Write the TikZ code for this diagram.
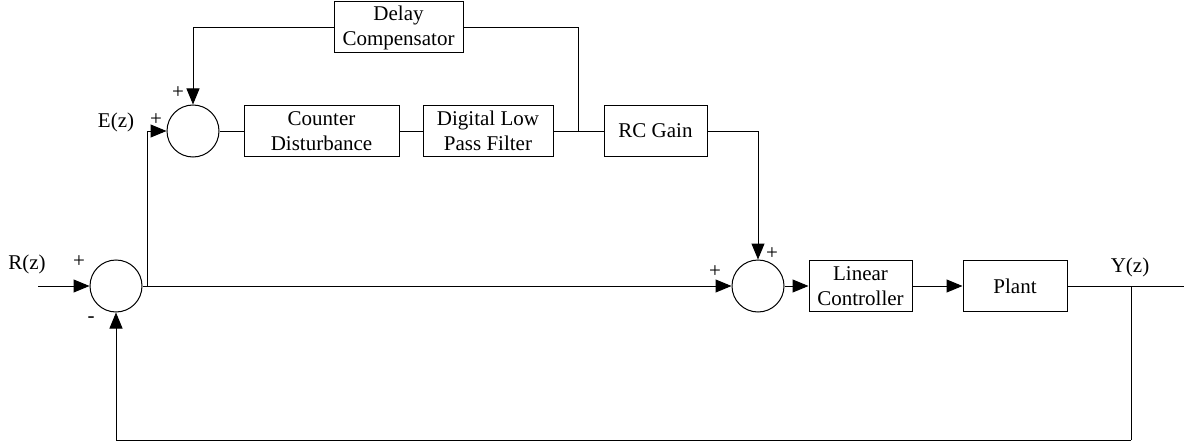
\documentclass[tikz,border=0pt]{standalone}
\usepackage{fontspec}
\setmainfont{Liberation Serif}
\usetikzlibrary{arrows.meta}
\begin{document}
\begin{tikzpicture}[x=1pt,y=-1pt,
  font=\fontsize{21}{25}\selectfont,
  blk/.style={draw, line width=1pt, inner sep=0pt, align=center, minimum height=51pt},
  sumc/.style={draw, circle, line width=1pt, minimum size=52pt, inner sep=0pt},
  wire/.style={line width=1pt},
  arr/.style={wire, -{Triangle[length=16pt,width=13pt]}},
  lbl/.style={inner sep=0pt}]
\useasboundingbox (0,0) rectangle (1184,444);
% summing junctions
\node[sumc] (c0) at (116,286) {};
\node[sumc] (c1) at (193,131) {};
\node[sumc] (c2) at (758,286) {};
% blocks
\node[blk, minimum width=129pt] (dc) at (398.5,27.5) {Delay\\Compensator};
\node[blk, minimum width=155pt] (cd) at (321.5,131) {Counter\\Disturbance};
\node[blk, minimum width=130pt] (lp) at (488,131) {Digital Low\\Pass Filter};
\node[blk, minimum width=103pt] (rc) at (655.5,131) {RC Gain};
\node[blk, minimum width=103pt] (lc) at (860.5,286) {Linear\\Controller};
\node[blk, minimum width=104pt] (pl) at (1015,286) {Plant};
% coordinates
\coordinate (in) at (38,286);
\coordinate (out) at (1184,286);
\coordinate (j1) at (147,286);
\coordinate (j2) at (578,131);
\coordinate (j3) at (1131,286);
\coordinate (br) at (1131,440);
% connectors
\draw[arr] (in) -- (c0);
\draw[arr] (c0) -- (c2);
\draw[arr] (j1) |- (c1);
\draw[wire] (c1) -- (cd);
\draw[wire] (cd) -- (lp);
\draw[wire] (lp) -- (rc);
\draw[wire] (j2) |- (dc);
\draw[arr] (dc) -| (c1);
\draw[arr] (rc) -| (c2);
\draw[arr] (c2) -- (lc);
\draw[arr] (lc) -- (pl);
\draw[wire] (pl) -- (out);
\draw[wire] (j3) -- (br);
\draw[arr] (br) -| (c0);
% labels
\node[lbl, anchor=base] (lE) at (116,128) {E(z)};
\node[lbl, anchor=base] (lR) at (27,269) {R(z)};
\node[lbl, anchor=base] (lY) at (1130,272) {Y(z)};
\node[lbl] (p1) at (156,120) {+};
\node[lbl] (p2) at (178,93) {+};
\node[lbl] (p3) at (79,262) {+};
\node[lbl] (m1) at (91,320) {-};
\node[lbl] (p4) at (715,272) {+};
\node[lbl] (p5) at (772,254) {+};
\end{tikzpicture}
\end{document}
